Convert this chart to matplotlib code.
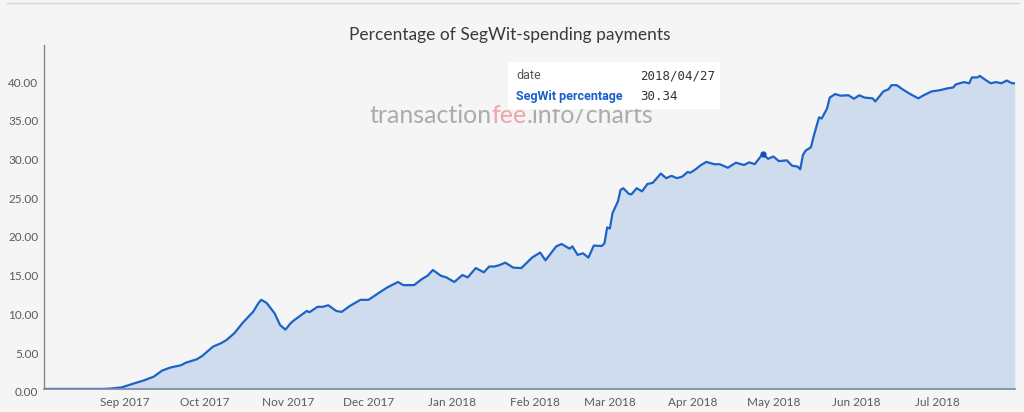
import pandas as pd
import matplotlib
matplotlib.use('Agg')
import matplotlib.pyplot as plt
import matplotlib.dates as mdates
from matplotlib.patches import Rectangle
from matplotlib.lines import Line2D
from matplotlib.transforms import offset_copy

# daily-ish samples
dates = [
    '2017-08-02', '2017-08-24', '2017-08-27', '2017-08-31', '2017-09-04', '2017-09-08',
    '2017-09-12', '2017-09-15', '2017-09-18', '2017-09-22', '2017-09-24', '2017-09-28',
    '2017-09-30', '2017-10-04', '2017-10-07', '2017-10-09', '2017-10-12', '2017-10-15',
    '2017-10-19', '2017-10-21', '2017-10-22', '2017-10-24', '2017-10-27', '2017-10-29',
    '2017-10-31', '2017-11-02', '2017-11-03', '2017-11-05', '2017-11-08', '2017-11-09',
    '2017-11-12', '2017-11-14', '2017-11-16', '2017-11-19', '2017-11-21', '2017-11-24',
    '2017-11-28', '2017-12-01', '2017-12-04', '2017-12-08', '2017-12-12', '2017-12-14',
    '2017-12-18', '2017-12-21', '2017-12-23', '2017-12-25', '2017-12-28', '2017-12-30',
    '2018-01-02', '2018-01-05', '2018-01-07', '2018-01-10', '2018-01-13', '2018-01-15',
    '2018-01-17', '2018-01-19', '2018-01-21', '2018-01-24', '2018-01-27', '2018-01-31',
    '2018-02-03', '2018-02-05', '2018-02-07', '2018-02-09', '2018-02-11', '2018-02-14',
    '2018-02-15', '2018-02-17', '2018-02-19', '2018-02-21', '2018-02-23', '2018-02-26',
    '2018-02-27', '2018-02-28', '2018-03-01', '2018-03-02', '2018-03-04', '2018-03-05',
    '2018-03-06', '2018-03-08', '2018-03-09', '2018-03-11', '2018-03-13', '2018-03-15',
    '2018-03-17', '2018-03-20', '2018-03-22', '2018-03-24', '2018-03-26', '2018-03-28',
    '2018-03-30', '2018-03-31', '2018-04-02', '2018-04-04', '2018-04-06', '2018-04-09',
    '2018-04-11', '2018-04-14', '2018-04-17', '2018-04-20', '2018-04-22', '2018-04-24',
    '2018-04-25', '2018-04-27', '2018-04-29', '2018-05-01', '2018-05-03', '2018-05-06',
    '2018-05-08', '2018-05-10', '2018-05-11', '2018-05-12', '2018-05-13', '2018-05-15',
    '2018-05-16', '2018-05-18', '2018-05-19', '2018-05-21', '2018-05-22', '2018-05-24',
    '2018-05-26', '2018-05-29', '2018-05-31', '2018-06-02', '2018-06-04', '2018-06-07',
    '2018-06-08', '2018-06-11', '2018-06-13', '2018-06-14', '2018-06-16', '2018-06-18',
    '2018-06-21', '2018-06-24', '2018-06-26', '2018-06-29', '2018-07-02', '2018-07-05',
    '2018-07-07', '2018-07-08', '2018-07-11', '2018-07-13', '2018-07-14', '2018-07-16',
    '2018-07-17', '2018-07-19', '2018-07-21', '2018-07-23', '2018-07-25', '2018-07-27',
    '2018-07-29', '2018-07-30',
]
segwit_pct = [
    0.0, 0.0, 0.05, 0.2, 0.65, 1.07,
    1.6, 2.36, 2.75, 3.05, 3.4, 3.83,
    4.26, 5.46, 5.9, 6.3, 7.2, 8.5,
    9.97, 11.1, 11.5, 11.1, 9.75, 8.26,
    7.65, 8.5, 8.8, 9.3, 10.06, 9.9,
    10.6, 10.6, 10.8, 10.06, 9.94, 10.7,
    11.5, 11.5, 12.2, 13.1, 13.8, 13.4,
    13.4, 14.2, 14.6, 15.35, 14.6, 14.4,
    13.8, 14.7, 14.4, 15.6, 15.05, 15.8,
    15.8, 16.0, 16.3, 15.65, 15.6, 16.95,
    17.6, 16.6, 17.5, 18.4, 18.7, 18.1,
    18.4, 17.3, 17.5, 16.95, 18.5, 18.45,
    18.8, 20.85, 20.7, 22.7, 24.2, 25.7,
    25.9, 25.2, 25.1, 25.9, 25.5, 26.45,
    26.6, 27.8, 27.2, 27.5, 27.2, 27.4,
    28.0, 27.9, 28.35, 28.9, 29.3, 29.0,
    29.0, 28.55, 29.2, 28.9, 29.25, 29.0,
    29.45, 30.34, 29.7, 30.0, 29.4, 29.5,
    28.8, 28.7, 28.35, 30.2, 30.75, 31.2,
    32.6, 35.05, 34.9, 36.2, 37.6, 38.06,
    37.85, 37.9, 37.45, 37.9, 37.6, 37.5,
    37.1, 38.4, 38.7, 39.2, 39.2, 38.7,
    38.06, 37.5, 37.9, 38.4, 38.55, 38.8,
    38.9, 39.3, 39.6, 39.45, 40.2, 40.2,
    40.4, 39.9, 39.45, 39.6, 39.45, 39.8,
    39.45, 39.45,
]
y_ticks = [0, 5, 10, 15, 20, 25, 30, 35, 40]

hover_date = '2018-04-27'
hover_value = 30.34

bg = '#f5f5f5'
line_col = '#1c63c7'
fill_col = '#cfdcee'

x = pd.to_datetime(dates)

fig = plt.figure(figsize=(10.24, 4.12), dpi=100, facecolor=bg)
ax = fig.add_axes([0.043, 0.056, 0.948, 0.835], facecolor=bg)

ax.fill_between(x, 0, segwit_pct, color=fill_col, lw=0)
ax.plot(x, segwit_pct, color=line_col, lw=1.6)
ax.plot(pd.to_datetime([hover_date]), [hover_value], 'o', color='#1550b0', ms=3.5)

ax.set_xlim(x[0], x[-1])
ax.set_ylim(0, 44.4)
ax.set_yticks(y_ticks)
ax.yaxis.set_major_formatter(matplotlib.ticker.FormatStrFormatter('%.2f'))
ax.xaxis.set_major_locator(mdates.MonthLocator(bymonthday=1))
ax.xaxis.set_major_formatter(mdates.DateFormatter('%b %Y'))
# first tick (Aug) is at the very edge, drop it
ax.set_xticks([t for t in ax.get_xticks() if t > mdates.date2num(x[0]) + 5])

ax.tick_params(length=0, labelsize=8.5, labelcolor='#5a5a5a', pad=4)
ax.tick_params(axis='x', pad=6)
for lab in ax.get_xticklabels() + ax.get_yticklabels():
    lab.set_family('Lato')
for lab in ax.get_yticklabels():
    lab.set_transform(offset_copy(lab.get_transform(), fig=fig, x=0, y=-3, units='dots'))

for s in ['top', 'right']:
    ax.spines[s].set_visible(False)
ax.spines['left'].set_color('#888888')
ax.spines['bottom'].set_color('#7a86a4')
ax.spines['left'].set_linewidth(1)
ax.spines['bottom'].set_linewidth(1.2)

fig.text(0.498, 0.915, 'Percentage of SegWit-spending payments', ha='center', va='center',
         fontsize=12.5, color='#3a3a3a', family='Lato')

# top rule of the card
fig.add_artist(Line2D([0.007, 0.995], [0.992, 0.992], color='#d6d6d6', lw=1))

# watermark
wm = dict(fontsize=18, family='Lato', annotation_clip=False)
t1 = ax.annotate('transaction', xy=(0.361, 0.72), xycoords='figure fraction',
                 ha='left', va='center', color='#ababab', **wm)
t2 = ax.annotate('fee', xy=(1, 0), xycoords=t1, ha='left', va='bottom',
                 color='#f2a3aa', **wm)
ax.annotate('.info/charts', xy=(1, 0), xycoords=t2, ha='left', va='bottom',
            color='#ababab', **wm)

# tooltip
fig.add_artist(Rectangle((0.496, 0.736), 0.207, 0.113, transform=fig.transFigure,
                         facecolor='white', edgecolor='none', zorder=5))
fig.text(0.504, 0.816, 'date', fontsize=9, color='#555555', family='Roboto', va='center', zorder=6)
fig.text(0.625, 0.816, '2018/04/27', fontsize=9, color='#333333', family='DejaVu Sans Mono',
         va='center', zorder=6)
fig.text(0.504, 0.765, 'SegWit percentage', fontsize=9, color='#1a5fc9', family='Roboto',
         fontweight='bold', va='center', zorder=6)
fig.text(0.625, 0.765, '30.34', fontsize=9, color='#333333', family='DejaVu Sans Mono',
         va='center', zorder=6)

fig.savefig('out.png', dpi=100, facecolor=bg)
